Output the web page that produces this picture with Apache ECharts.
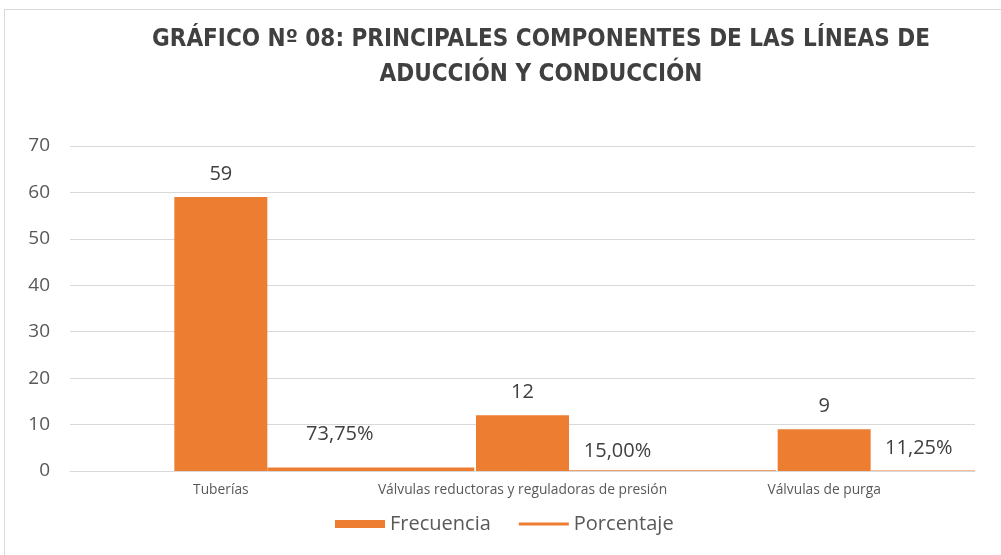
<!DOCTYPE html>
<html>
<head>
<meta charset="utf-8">
<script src="https://cdn.jsdelivr.net/npm/echarts@6/dist/echarts.min.js"></script>
<style>
  html, body { margin: 0; padding: 0; background: #fff; }
  #frame { position: absolute; left: 4px; top: 9px; width: 1010px; height: 560px; border: 1px solid #d9d9d9; box-sizing: border-box; }
  #chart { position: absolute; left: 0; top: 0; width: 1001px; height: 555px; }
</style>
</head>
<body>
<div id="frame"></div>
<div id="chart"></div>
<script>
// datos
const categorias = ["Tuberías", "Válvulas reductoras y reguladoras de presión", "Válvulas de purga"];
const frecuencia = [59, 12, 9];
const porcentaje = [0.7375, 0.15, 0.1125];
const etiquetasPct = ["73,75%", "15,00%", "11,25%"];
const yTicks = { min: 0, max: 70, step: 10 };

// desplazamiento de las etiquetas de porcentaje (solo estilo)
const pctLabelOffset = [[-31, -5], [-55, 9], [-4, 6]];

const NARANJA = "#ED7D31";
const GRIS = "#595959";
const FONT = "'Open Sans', Lato, sans-serif";

const chart = echarts.init(document.getElementById("chart"), null, { renderer: "canvas" });
chart.setOption({
  animation: false,
  title: {
    text: "GRÁFICO Nº 08: PRINCIPALES COMPONENTES DE LAS LÍNEAS DE\nADUCCIÓN Y CONDUCCIÓN",
    left: 536, top: 17, textAlign: "center",
    textStyle: { fontFamily: "'Liberation Sans Narrow', 'DejaVu Sans Condensed', sans-serif", fontWeight: "bold", fontSize: 24, lineHeight: 35, color: "#404040" }
  },
  legend: {
    top: 509, left: 330,
    itemWidth: 50, itemHeight: 8, itemGap: 28,
    textStyle: { fontFamily: FONT, fontSize: 20, color: GRIS },
    data: [
      { name: "Frecuencia", icon: "rect" },
      { name: "Porcentaje", icon: "path://M0,0H50V3H0Z" }
    ]
  },
  grid: { left: 70, right: 26, top: 146, bottom: 84 },
  xAxis: {
    type: "category", data: categorias,
    axisLine: { lineStyle: { color: "#d9d9d9" } },
    axisTick: { show: false },
    axisLabel: { fontFamily: FONT, fontSize: 13.8, color: GRIS, margin: 12, interval: 0 }
  },
  yAxis: {
    type: "value", min: yTicks.min, max: yTicks.max, interval: yTicks.step,
    axisLine: { show: false }, axisTick: { show: false },
    axisLabel: { fontFamily: FONT, fontSize: 19, color: GRIS, margin: 20 },
    splitLine: { lineStyle: { color: "#d9d9d9" } }
  },
  series: [
    // hueco invisible para que la barra de frecuencia quede centrada
    { name: "_hueco", type: "bar", barWidth: 207, barGap: 0, data: frecuencia.map(() => 0),
      itemStyle: { color: "transparent" }, silent: true },
    { name: "Frecuencia", type: "bar", barWidth: 93, barGap: 0, data: frecuencia,
      itemStyle: { color: NARANJA },
      label: { show: true, position: "top", distance: 13, fontFamily: FONT, fontSize: 20, color: "#404040" } },
    { name: "Porcentaje", type: "bar", barWidth: 207, barGap: 0,
      data: porcentaje.map((v, i) => ({
        value: v,
        label: { offset: pctLabelOffset[i], formatter: etiquetasPct[i] }
      })),
      itemStyle: { color: NARANJA },
      label: { show: true, position: "top", distance: 18, fontFamily: FONT, fontSize: 20, color: "#404040" } }
  ]
});
</script>
</body>
</html>
